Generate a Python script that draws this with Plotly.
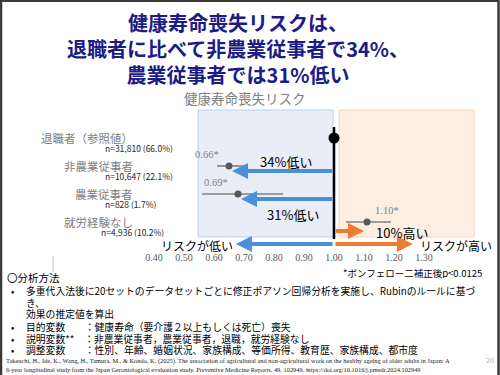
import plotly.graph_objects as go

# ---------------- data ----------------
categories = ["退職者（参照値）", "非農業従事者", "農業従事者", "就労経験なし"]
n_labels = ["n=31,810 (66.0%)", "n=10,647 (22.1%)", "n=828 (1.7%)", "n=4,936 (10.2%)"]
hr_plot = [1.00, 0.65, 0.68, 1.11]
ci_low = [1.00, 0.61, 0.56, 1.04]
ci_high = [1.00, 0.70, 0.83, 1.19]
hr_values = [1.00, 0.66, 0.69, 1.10]
hr_labels = ["", "0.66*", "0.69*", "1.10*"]
change_labels = ["", "34%低い", "31%低い", "10%高い"]
tick_vals = [0.40, 0.50, 0.60, 0.70, 0.80, 0.90, 1.00, 1.10, 1.20, 1.30]
tick_text = ["%.2f" % v for v in tick_vals]

title_lines = ["健康寿命喪失リスクは、", "退職者に比べて非農業従事者で34%、", "農業従事者では31%低い"]
chart_title = "健康寿命喪失リスク"
note = "*ボンフェロー二補正後p<0.0125"
method_head = "〇分析方法"
method_bullets = ["•", "", "", "•", "•", "•"]
method_lines = [
    "多重代入法後に20セットのデータセットごとに修正ポアソン回帰分析を実施し、Rubinのルールに基づ",
    "き、",
    "効果の推定値を算出",
    "目的変数　　：健康寿命（要介護２以上もしくは死亡）喪失",
    "説明変数**　：非農業従事者，農業従事者，退職，就労経験なし",
    "調整変数　　：性別、年齢、婚姻状況、家族構成、等価所得、教育歴、家族構成、都市度",
]
citation = [
    "Takeuchi, H., Ide, K., Wang, H., Tamura, M., & Kondo, K. (2025). The association of agricultural and non-agricultural work on the healthy ageing of older adults in Japan: A",
    "6-year longitudinal study from the Japan Gerontological evaluation study. Preventive Medicine Reports, 49, 102949. https://doi.org/10.1016/j.pmedr.2024.102949",
]

W, H = 500, 375
JP = "Noto Sans CJK JP"
SERIF = "Liberation Serif"
NAVY = "#1c1c86"
BLUE = "#4a90d9"
ORANGE = "#ed7d31"


def px(x):
    return x / W


def py(y):
    return 1 - y / H


def txt(x, y, text, size, color="black", family=JP, xanchor="center", height=None):
    d = dict(x=px(x), y=py(y), xref="paper", yref="paper", text=text,
             showarrow=False, xanchor=xanchor, yanchor="middle", align=xanchor,
             font=dict(family=family, size=size, color=color), borderpad=0)
    if height:
        d["height"] = height
    return d


ys = list(range(len(categories)))

fig = go.Figure()

# background panels
fig.add_shape(type="rect", xref="x", yref="y", x0=0.547, x1=0.997, y0=-1.0, y1=3.536,
              fillcolor="#e8edf7", line=dict(color="#bcd0ee", width=1), layer="below")
fig.add_shape(type="rect", xref="x", yref="y", x0=1.017, x1=1.467, y0=-1.0, y1=3.536,
              fillcolor="#fdeee4", line=dict(color="#f8d4bd", width=1), layer="below")

# estimates with CI
fig.add_trace(go.Scatter(
    x=hr_plot[1:], y=ys[1:], mode="markers",
    marker=dict(color="#595959", size=7),
    error_x=dict(type="data", symmetric=False,
                 array=[h - p for h, p in zip(ci_high[1:], hr_plot[1:])],
                 arrayminus=[p - l for l, p in zip(ci_low[1:], hr_plot[1:])],
                 color="#808080", thickness=1.6, width=0),
    showlegend=False, hoverinfo="skip"))

# reference vertical line
fig.add_shape(type="line", xref="x", yref="y", x0=1.0, x1=1.0, y0=-0.39, y1=3.61,
              line=dict(color="black", width=2.5), layer="above")
fig.add_trace(go.Scatter(x=[hr_plot[0]], y=[ys[0]], mode="markers",
                         marker=dict(color="black", size=11),
                         showlegend=False, hoverinfo="skip"))

annotations = []

# arrows from 1.0 to each estimate
arrow_dy = [0, 0.18, 0.18, 0.32]
for i in range(1, len(categories)):
    col = BLUE if hr_values[i] < 1 else ORANGE
    annotations.append(dict(x=hr_values[i], y=ys[i] + arrow_dy[i], xref="x", yref="y",
                            ax=1.0, ay=ys[i] + arrow_dy[i], axref="x", ayref="y",
                            text="", showarrow=True, arrowhead=2, arrowsize=0.8,
                            arrowwidth=4, arrowcolor=col, standoff=0))

# bottom direction arrows
annotations.append(dict(x=0.673, y=3.786, xref="x", yref="y", ax=1.0, ay=3.786,
                        axref="x", ayref="y", text="", showarrow=True, arrowhead=2,
                        arrowsize=0.8, arrowwidth=4, arrowcolor=BLUE, standoff=0))
annotations.append(dict(x=1.263, y=3.786, xref="x", yref="y", ax=1.0, ay=3.786,
                        axref="x", ayref="y", text="", showarrow=True, arrowhead=2,
                        arrowsize=0.8, arrowwidth=4, arrowcolor=ORANGE, standoff=0))
annotations.append(txt(234, 245, "リスクが低い", 12, xanchor="right"))
annotations.append(txt(419, 245, "リスクが高い", 12, xanchor="left"))

# hr value labels
label_dx = [0, -0.072, -0.072, 0.068]
for i in range(1, len(categories)):
    annotations.append(dict(x=hr_plot[i] + label_dx[i], y=ys[i], xref="x", yref="y",
                            yshift=12, text=hr_labels[i], showarrow=False,
                            xanchor="center", yanchor="middle",
                            font=dict(family=SERIF, size=10.5, color="#7f7f7f")))

# change labels
change_pos = [None, (286, 161, "center"), (293, 214, "center"), (375, 232, "left")]
for i in range(1, len(categories)):
    x, y, anc = change_pos[i]
    annotations.append(txt(x, y, change_labels[i], 13, xanchor=anc))

# category labels
for i, (c, n) in enumerate(zip(categories, n_labels)):
    yc = 138 + 28 * i
    annotations.append(txt(134, yc, c, 11.5, color="#808080", xanchor="right"))
    annotations.append(txt(104 if i < 3 else 100, yc + 10, n, 8.5, color="#262626",
                           xanchor="left", height=10))

# titles
annotations.append(txt(238, 48, "<br>".join("<b>%s</b>" % t for t in title_lines), 20, color=NAVY))
annotations.append(txt(245, 98, chart_title, 13.5, color="#7f7f7f"))
annotations.append(txt(342, 272, note, 9.5, xanchor="left", height=11))

# methods block
annotations.append(txt(6, 277, method_head, 10.5, xanchor="left", height=12))
line_y = [290, 302, 313, 326, 338, 349]
for b, t, yy in zip(method_bullets, method_lines, line_y):
    if b:
        annotations.append(txt(10, yy, b, 10, xanchor="left", height=10))
    annotations.append(txt(25, yy, t, 9.8, xanchor="left", height=11))

for t, yy in zip(citation, [361, 369]):
    annotations.append(txt(5, yy, t, 6.4, color="#222222", family=SERIF, xanchor="left", height=8))
annotations.append(txt(490, 360, "20", 7, color="#aaaaaa"))

# slide frame and small stub line
fig.add_shape(type="rect", xref="paper", yref="paper", x0=0.002, x1=0.997, y0=-0.01, y1=0.998,
              line=dict(color="#3a3a3a", width=2.5), fillcolor="rgba(0,0,0,0)")
fig.add_shape(type="line", xref="paper", yref="paper", x0=px(53), x1=px(53), y0=py(256), y1=py(272),
              line=dict(color="#bfbfbf", width=1))

fig.update_layout(
    width=W, height=H, margin=dict(l=0, r=0, t=0, b=0),
    paper_bgcolor="white", plot_bgcolor="rgba(0,0,0,0)",
    annotations=annotations, showlegend=False,
    xaxis=dict(domain=[0, 1], range=[1 - 334 / 300, 1 + 166 / 300],
               tickvals=tick_vals, ticktext=tick_text, showgrid=False, zeroline=False,
               showline=False, ticks="", tickfont=dict(family=SERIF, size=10, color="#595959"),
               fixedrange=True),
    yaxis=dict(domain=[1 - 250 / H, 1 - 105 / H], range=[(250 - 138) / 28, (105 - 138) / 28],
               visible=False, fixedrange=True),
)

fig.write_html("out.html", config={"displayModeBar": False},
               post_script="document.body.style.margin='0';document.body.style.padding='0';document.body.style.overflow='hidden';")
